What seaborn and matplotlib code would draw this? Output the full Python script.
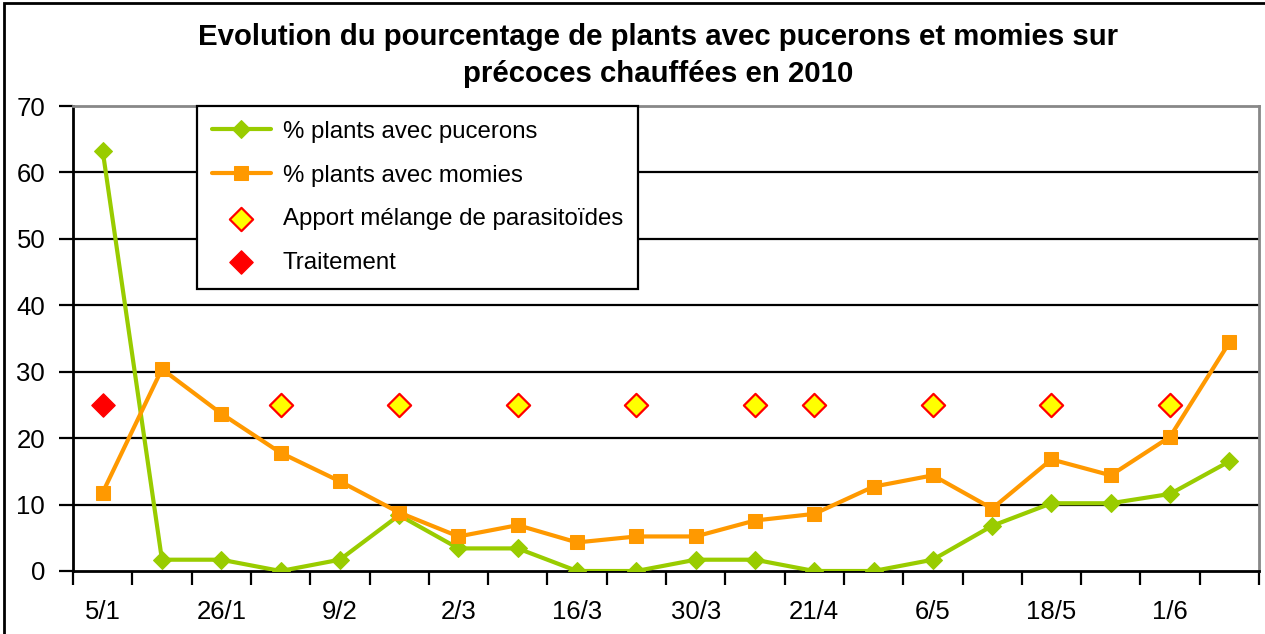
import numpy as np
import pandas as pd
import seaborn as sns
import matplotlib.pyplot as plt
from matplotlib.patches import Rectangle

# dates (only every other one is labelled on the axis)
dates = ["5/1", "", "26/1", "", "9/2", "", "2/3", "", "16/3", "",
         "30/3", "", "21/4", "", "6/5", "", "18/5", "", "1/6", ""]
pucerons = [63.3, 1.7, 1.7, 0, 1.7, 8.4, 3.4, 3.4, 0, 0,
            1.7, 1.7, 0, 0, 1.7, 6.8, 10.2, 10.2, 11.6, 16.5]
momies = [11.8, 30.4, 23.7, 17.8, 13.5, 8.8, 5.2, 6.9, 4.3, 5.2,
          5.2, 7.6, 8.6, 12.7, 14.4, 9.4, 16.8, 14.4, 20.2, 34.4]
apport = [np.nan, np.nan, np.nan, 25, np.nan, 25, np.nan, 25, np.nan, 25,
          np.nan, 25, 25, np.nan, 25, np.nan, 25, np.nan, 25, np.nan]
traitement = [25] + [np.nan] * 19

df = pd.DataFrame({
    "idx": np.arange(len(dates)),
    "pucerons": pucerons,
    "momies": momies,
    "apport": apport,
    "traitement": traitement,
})

sns.set_style("white")
plt.rcParams['font.family'] = ['Liberation Sans', 'DejaVu Sans']
plt.rcParams['text.color'] = 'black'
plt.rcParams['xtick.color'] = 'black'
plt.rcParams['ytick.color'] = 'black'

fig = plt.figure(figsize=(12.65, 6.34), dpi=100)
ax = fig.add_axes([73 / 1265, 1 - 571 / 634, (1259 - 73) / 1265, (571 - 106) / 634])

# gridlines
for v in range(10, 70, 10):
    ax.axhline(v, color='black', lw=1.6, zorder=1)

sns.lineplot(data=df, x="idx", y="pucerons", ax=ax, color="#99CC00", lw=3,
             marker="D", markersize=9.5, markeredgecolor="#99CC00",
             label="% plants avec pucerons", zorder=3)
sns.lineplot(data=df, x="idx", y="momies", ax=ax, color="#FF9900", lw=3,
             marker="s", markersize=10.5, markeredgecolor="#FF9900",
             label="% plants avec momies", zorder=3)
sns.scatterplot(data=df, x="idx", y="apport", ax=ax, marker="D", s=140,
                color="#FFFF00", edgecolor="#FF0000", linewidth=1.6,
                label="Apport mélange de parasitoïdes", zorder=4)
sns.scatterplot(data=df, x="idx", y="traitement", ax=ax, marker="D", s=140,
                color="#FF0000", edgecolor="#FF0000", linewidth=1,
                label="Traitement", zorder=4)

ax.set_xlim(-0.5, len(dates) - 0.5)
ax.set_ylim(0, 70)
ax.set_xlabel("")
ax.set_ylabel("")

# tick marks between categories, labels at category centres
ax.set_xticks(np.arange(-0.5, len(dates), 1.0))
ax.set_xticklabels([])
ax.set_xticks(np.arange(len(dates)), minor=True)
ax.set_xticklabels(dates, minor=True, fontsize=18.5)
ax.tick_params(axis='x', which='major', direction='out', length=10, width=1.6, color='black', bottom=True)
ax.tick_params(axis='x', which='minor', length=0, pad=21)
ax.set_yticks(range(0, 71, 10))
ax.tick_params(axis='y', direction='out', length=10, width=1.6, color='black', left=True,
               labelsize=18.5, pad=10)

for side in ['left', 'bottom']:
    ax.spines[side].set_color('black')
    ax.spines[side].set_linewidth(2)
for side in ['top', 'right']:
    ax.spines[side].set_color('#888888')
    ax.spines[side].set_linewidth(2)

leg = ax.legend(loc='upper left', bbox_to_anchor=((197 - 73) / 1186, 1.0), borderaxespad=0,
                fontsize=17.3, frameon=True, fancybox=False, framealpha=1, edgecolor='black',
                handlelength=2.45, handletextpad=0.5, labelspacing=0.9, borderpad=0.62)
leg.get_frame().set_linewidth(1.6)
leg.set_zorder(5)

fig.text(658 / 1265, 1 - 37 / 634, "Evolution du pourcentage de plants avec pucerons et momies sur",
         ha='center', va='center', fontsize=21.2, fontweight='bold')
fig.text(658 / 1265, 1 - 74 / 634, "précoces chauffées en 2010",
         ha='center', va='center', fontsize=21.2, fontweight='bold')

fig.patches.append(Rectangle((4 / 1265, -0.1), 1.2, 1.1 - 3 / 634, transform=fig.transFigure,
                             fill=False, edgecolor='black', lw=2))

fig.savefig("out.png", dpi=100)
